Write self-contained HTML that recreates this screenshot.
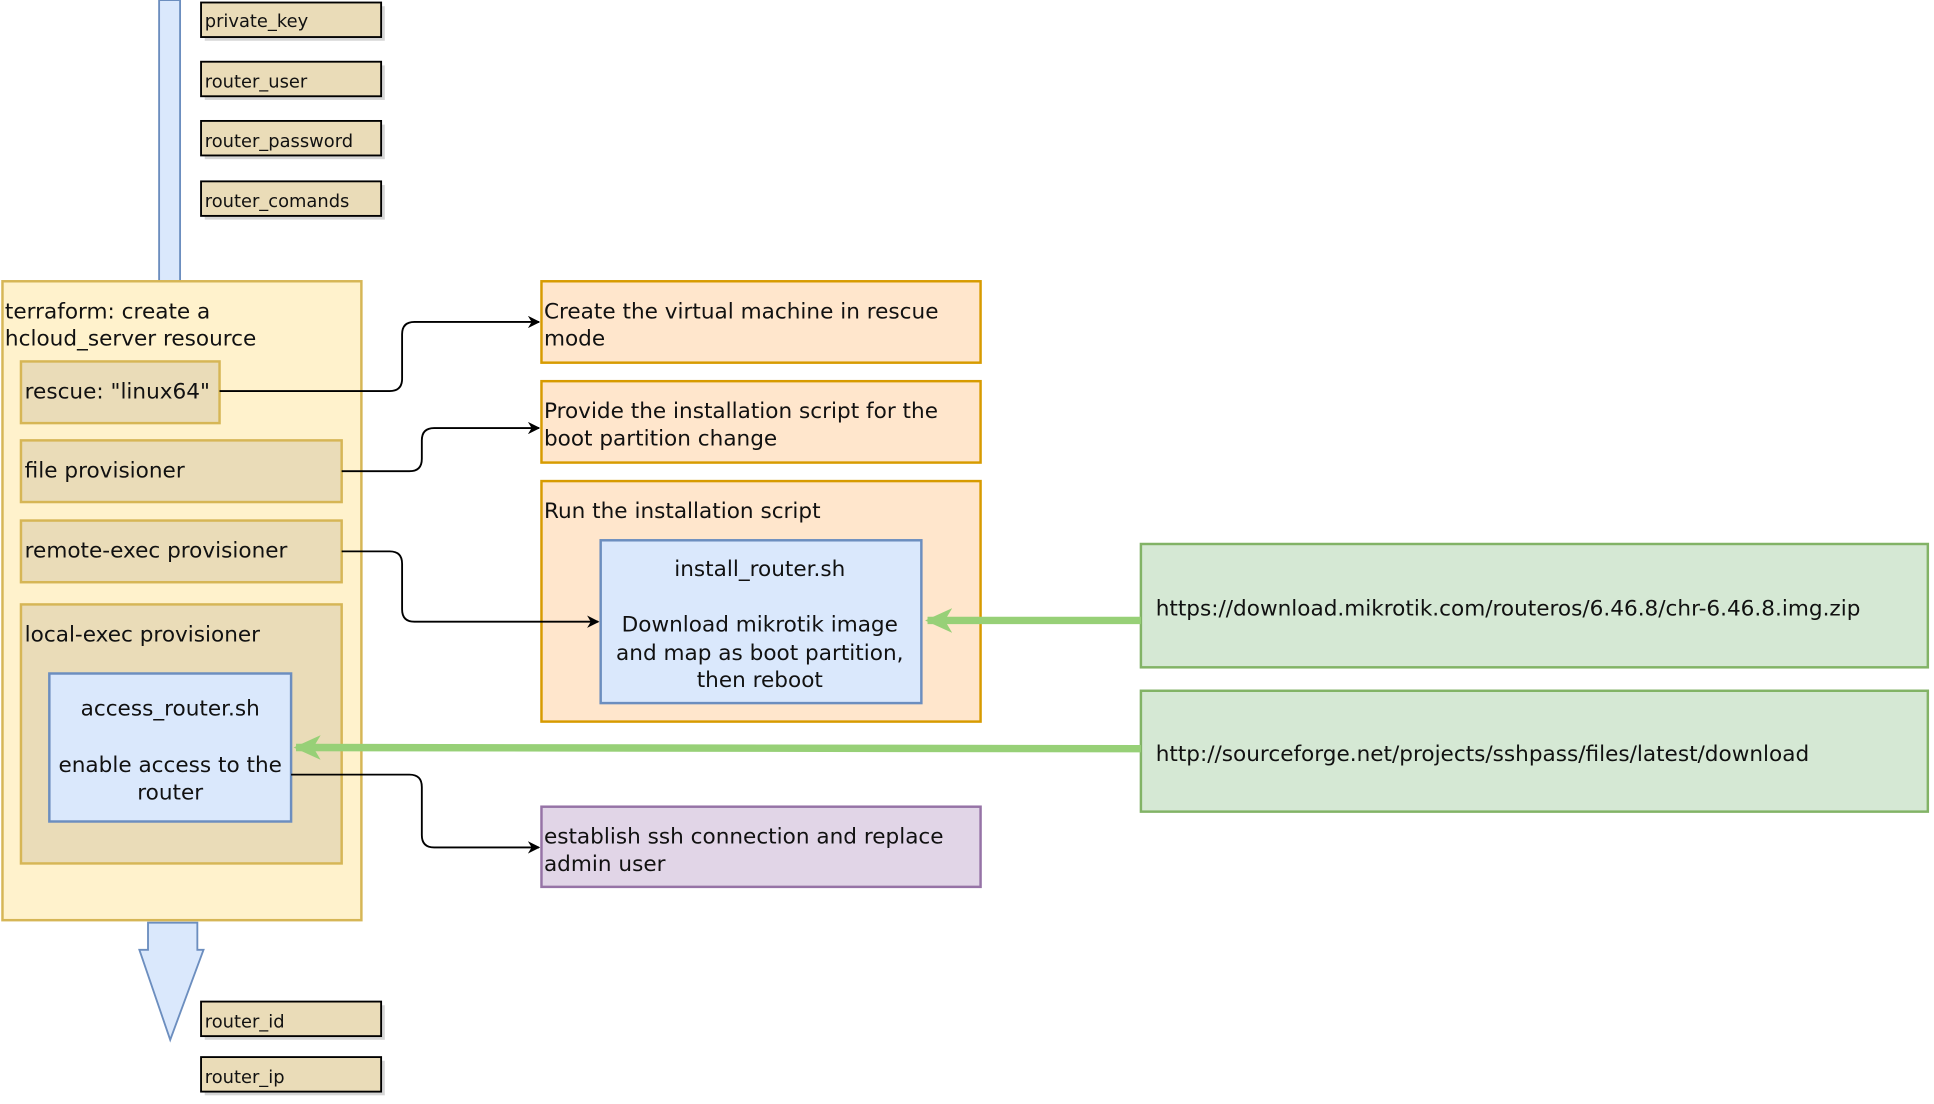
<!DOCTYPE html>
<html><head><meta charset="utf-8"><style>
html,body{margin:0;padding:0;background:#fff;}
svg{display:block}
text{font-family:"DejaVu Sans","Liberation Sans",sans-serif;font-size:17.5px;fill:#111}
.s{font-size:14.5px}
</style></head><body>
<svg width="1934" height="1104" viewBox="0 0 1568 895" xmlns="http://www.w3.org/2000/svg">
<defs>
<marker id="ah" markerWidth="10" markerHeight="10" refX="9" refY="5" orient="auto" markerUnits="userSpaceOnUse"><path d="M0,0 L10,5 L0,10 L3,5 z" fill="#000"/></marker>
<marker id="gh" markerWidth="24" markerHeight="24" refX="20" refY="12" orient="auto" markerUnits="userSpaceOnUse"><path d="M0,2 L22,12 L0,22 L6,12 z" fill="#97d077"/></marker>
</defs>
<path d="M129,0 L146,0 L146,228 L129,228 Z" fill="#dae8fc" stroke="#6c8ebf" stroke-width="1.5"/>
<path d="M120,748 L160,748 L160,770 L165,770 L138,843 L113,770 L120,770 Z" fill="#dae8fc" stroke="#6c8ebf" stroke-width="1.5"/>
<g stroke="#000" stroke-width="1.5" fill="#eadcb8">
<rect x="166" y="5" width="146" height="28" fill="#999" stroke="none" opacity=".4"/><rect x="163" y="2" width="146" height="28"/>
<rect x="166" y="53" width="146" height="28" fill="#999" stroke="none" opacity=".4"/><rect x="163" y="50" width="146" height="28"/>
<rect x="166" y="101" width="146" height="28" fill="#999" stroke="none" opacity=".4"/><rect x="163" y="98" width="146" height="28"/>
<rect x="166" y="150" width="146" height="28" fill="#999" stroke="none" opacity=".4"/><rect x="163" y="147" width="146" height="28"/>
<rect x="166" y="815" width="146" height="28" fill="#999" stroke="none" opacity=".4"/><rect x="163" y="812" width="146" height="28"/>
<rect x="166" y="860" width="146" height="28" fill="#999" stroke="none" opacity=".4"/><rect x="163" y="857" width="146" height="28"/>
</g>
<text class="s" x="166" y="22">private_key</text>
<text class="s" x="166" y="71">router_user</text>
<text class="s" x="166" y="119">router_password</text>
<text class="s" x="166" y="168">router_comands</text>
<text class="s" x="166" y="833">router_id</text>
<text class="s" x="166" y="878">router_ip</text>
<rect x="2" y="228" width="291" height="518" fill="#fff2cc" stroke="#d6b656" stroke-width="2"/>
<text x="4" y="258">terraform: create a</text>
<text x="4" y="280">hcloud_server resource</text>
<g fill="#eadcb8" stroke="#d6b656" stroke-width="2">
<rect x="17" y="293" width="161" height="50"/>
<rect x="17" y="357" width="260" height="50"/>
<rect x="17" y="422" width="260" height="50"/>
<rect x="17" y="490" width="260" height="210"/>
</g>
<text x="20" y="323">rescue: "linux64"</text>
<text x="20" y="387">file provisioner</text>
<text x="20" y="452">remote-exec provisioner</text>
<text x="20" y="520">local-exec provisioner</text>
<rect x="40" y="546" width="196" height="120" fill="#dae8fc" stroke="#6c8ebf" stroke-width="2"/>
<text x="138" y="580" text-anchor="middle">access_router.sh</text>
<text x="138" y="626" text-anchor="middle">enable access to the</text>
<text x="138" y="648" text-anchor="middle">router</text>
<g fill="#ffe6cc" stroke="#d79b00" stroke-width="2">
<rect x="439" y="228" width="356" height="66"/>
<rect x="439" y="309" width="356" height="66"/>
<rect x="439" y="390" width="356" height="195"/>
</g>
<text x="441" y="258">Create the virtual machine in rescue</text>
<text x="441" y="280">mode</text>
<text x="441" y="339">Provide the installation script for the</text>
<text x="441" y="361">boot partition change</text>
<text x="441" y="420">Run the installation script</text>
<rect x="487" y="438" width="260" height="132" fill="#dae8fc" stroke="#6c8ebf" stroke-width="2"/>
<text x="616" y="467" text-anchor="middle">install_router.sh</text>
<text x="616" y="512" text-anchor="middle">Download mikrotik image</text>
<text x="616" y="535" text-anchor="middle">and map as boot partition,</text>
<text x="616" y="557" text-anchor="middle">then reboot</text>
<rect x="439" y="654" width="356" height="65" fill="#e1d5e7" stroke="#9673a6" stroke-width="2"/>
<text x="441" y="684">establish ssh connection and replace</text>
<text x="441" y="706">admin user</text>
<g fill="#d5e8d4" stroke="#82b366" stroke-width="2">
<rect x="925" y="441" width="638" height="100"/>
<rect x="925" y="560" width="638" height="98"/>
</g>
<text x="937" y="499">https://download.mikrotik.com/routeros/6.46.8/chr-6.46.8.img.zip</text>
<text x="937" y="617">http://sourceforge.net/projects/sshpass/files/latest/download</text>
<path d="M925,503 L752,503" stroke="#97d077" stroke-width="6" fill="none" marker-end="url(#gh)"/>
<path d="M925,607 L240,606" stroke="#97d077" stroke-width="6" fill="none" marker-end="url(#gh)"/>
<g stroke="#000" stroke-width="1.5" fill="none">
<path d="M178,317 L316,317 Q326,317 326,307 L326,271 Q326,261 336,261 L437,261" marker-end="url(#ah)"/>
<path d="M277,382 L332,382 Q342,382 342,372 L342,357 Q342,347 352,347 L437,347" marker-end="url(#ah)"/>
<path d="M277,447 L316,447 Q326,447 326,457 L326,494 Q326,504 336,504 L485,504" marker-end="url(#ah)"/>
<path d="M236,628 L332,628 Q342,628 342,638 L342,677 Q342,687 352,687 L437,687" marker-end="url(#ah)"/>
</g>
</svg>
</body></html>
